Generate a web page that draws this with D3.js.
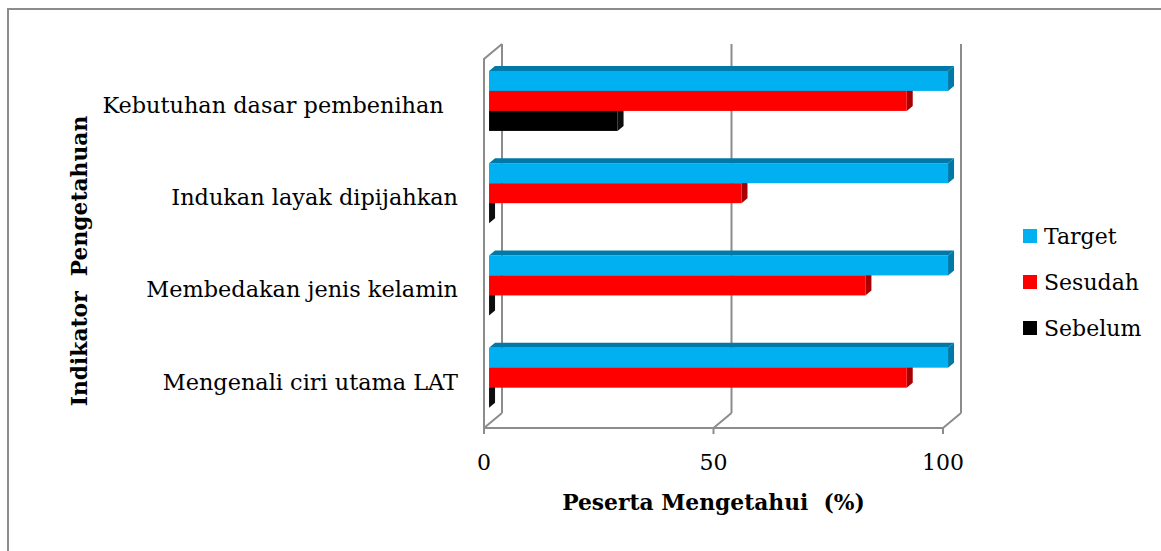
<!DOCTYPE html>
<html>
<head>
<meta charset="utf-8">
<script src="https://cdn.jsdelivr.net/npm/d3@7"></script>
<style>
  html, body { margin: 0; padding: 0; background: #fff; }
  svg { display: block; }
  text { font-family: "DejaVu Serif", "Liberation Serif", serif; white-space: pre; }
</style>
</head>
<body>
<svg id="chart"></svg>
<script>
// indicators, top to bottom
const categories = [
  "Kebutuhan dasar pembenihan  ",
  "Indukan layak dipijahkan",
  "Membedakan jenis kelamin",
  "Mengenali ciri utama LAT",
];
const seriesNames = ["Target", "Sesudah", "Sebelum"];
const target = [100, 100, 100, 100];
const sesudah = [91, 55, 82, 91];
const sebelum = [28, 0, 0, 0];
const xTicks = [0, 50, 100];

const COLORS = {
  Target: { front: "#00b0f0", side: "#0079a8" },
  Sesudah: { front: "#ff0000", side: "#a80000" },
  Sebelum: { front: "#000000", side: "#0d0d0d" },
};

const W = 1161, H = 551;
const svg = d3.select("#chart").attr("width", W).attr("height", H);

// outer frame (runs off the right / bottom of the picture)
svg.append("rect")
  .attr("x", 8).attr("y", 9).attr("width", W + 10).attr("height", H + 10)
  .attr("fill", "none").attr("stroke", "#8c8c8c").attr("stroke-width", 2);

// front plane of the 3d box
const plotTop = 59, plotBottom = 428;
const x = d3.scaleLinear().domain([0, 100]).range([484, 943]);
const DX = 18, DY = -15; // full depth offset
const y = d3.scaleBand().domain(categories).range([plotTop, plotBottom]);
const yInner = d3.scaleBand().domain(seriesNames).range([0, 60]);
const barFront = 0.28; // where the bar front face sits in the depth
const bdx = 6, bdy = -5; // bar depth

const grid = "#8c8c8c";
const walls = svg.append("g").attr("fill", "none").attr("stroke", grid).attr("stroke-width", 2);

// back wall gridlines
xTicks.forEach((t) => {
  walls.append("line")
    .attr("x1", x(t) + DX).attr("x2", x(t) + DX)
    .attr("y1", plotTop + DY).attr("y2", plotBottom + DY);
  // floor connector
  walls.append("line")
    .attr("x1", x(t) + DX).attr("y1", plotBottom + DY)
    .attr("x2", x(t)).attr("y2", plotBottom);
  // tick
  walls.append("line")
    .attr("x1", x(t)).attr("x2", x(t))
    .attr("y1", plotBottom).attr("y2", plotBottom + 6);
});
// left side wall
walls.append("path")
  .attr("d", `M${x(0)},${plotBottom}V${plotTop}L${x(0) + DX},${plotTop + DY}`);
// floor front edge
walls.append("line")
  .attr("x1", x(0)).attr("x2", x(100))
  .attr("y1", plotBottom).attr("y2", plotBottom);

// bars
const rows = categories.map((c, i) => ({
  cat: c,
  vals: { Target: target[i], Sesudah: sesudah[i], Sebelum: sebelum[i] },
}));

const ox = DX * barFront, oy = DY * barFront;
const bars = svg.append("g");
rows.forEach((r) => {
  const y0 = y(r.cat) + (y.bandwidth() - 60) / 2 + oy;
  // draw bottom series first so the top faces are hidden by the bar above
  [...seriesNames].reverse().forEach((s) => {
    const v = r.vals[s];
    const yt = y0 + yInner(s), yb = yt + yInner.bandwidth();
    const xl = x(0) + ox, xr = x(v) + ox;
    const col = COLORS[s];
    // top face
    bars.append("path")
      .attr("d", `M${xl},${yt}L${xl + bdx},${yt + bdy}L${xr + bdx},${yt + bdy}L${xr},${yt}Z`)
      .attr("fill", col.side);
    // right face
    bars.append("path")
      .attr("d", `M${xr},${yt}L${xr + bdx},${yt + bdy}L${xr + bdx},${yb + bdy}L${xr},${yb}Z`)
      .attr("fill", col.side);
    // front face
    bars.append("rect")
      .attr("x", xl).attr("y", yt)
      .attr("width", xr - xl).attr("height", yb - yt)
      .attr("fill", col.front);
  });
});

// category labels
svg.append("g").selectAll("text")
  .data(categories)
  .join("text")
  .attr("x", 458)
  .attr("y", (d) => y(d) + y.bandwidth() / 2)
  .attr("dy", "0.35em")
  .attr("text-anchor", "end")
  .attr("font-size", 22.4)
  .attr("fill", "#000")
  .text((d) => d);

// tick labels
svg.append("g").selectAll("text")
  .data(xTicks)
  .join("text")
  .attr("x", (d) => x(d))
  .attr("y", 470)
  .attr("text-anchor", "middle")
  .attr("font-size", 22)
  .text((d) => d);

// axis titles
svg.append("text")
  .attr("x", (x(0) + x(100)) / 2).attr("y", 510)
  .attr("text-anchor", "middle")
  .attr("font-size", 21.8).attr("font-weight", "bold")
  .text("Peserta Mengetahui  (%)");

svg.append("text")
  .attr("transform", "translate(87,261) rotate(-90)")
  .attr("text-anchor", "middle")
  .attr("font-size", 21.8).attr("font-weight", "bold")
  .text("Indikator  Pengetahuan");

// legend
const leg = svg.append("g").attr("transform", "translate(1023,229)");
seriesNames.forEach((s, i) => {
  leg.append("rect")
    .attr("x", 0).attr("y", i * 46)
    .attr("width", 14).attr("height", 14)
    .attr("fill", COLORS[s].front);
  leg.append("text")
    .attr("x", 21).attr("y", i * 46 + 7)
    .attr("dy", "0.35em")
    .attr("font-size", 22)
    .text(s);
});
</script>
</body>
</html>
